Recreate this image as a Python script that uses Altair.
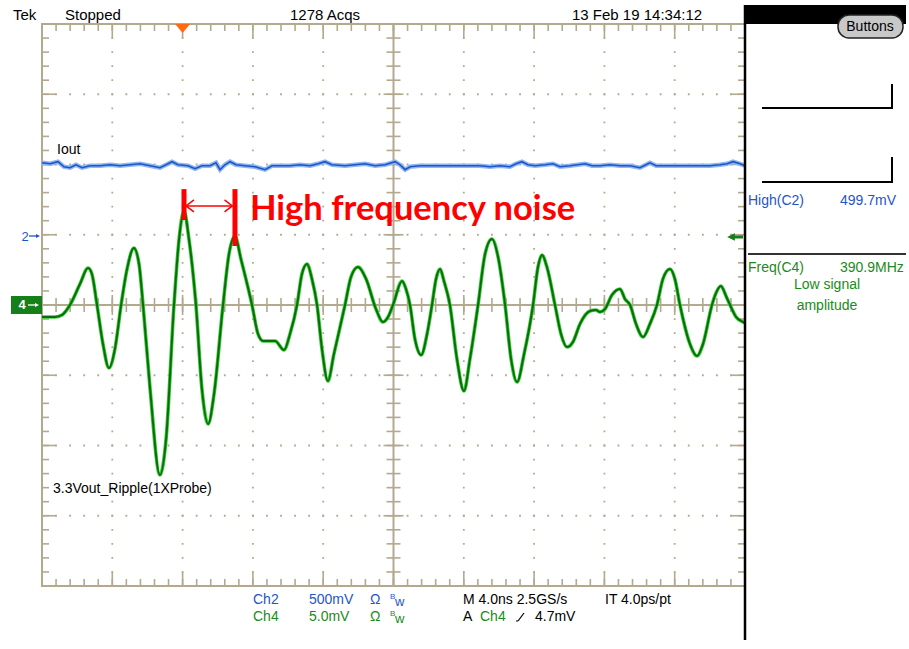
import altair as alt
import numpy as np
import pandas as pd

# ---------------- data ----------------
# Ch4 (green) 3.3V output ripple: time [ns] vs amplitude [mV]
ch4_time_ns = [
    0.00, 0.74, 1.14, 1.59, 2.16, 2.62, 2.84, 3.13, 3.47, 3.81,
    4.15, 4.50, 4.84, 5.23, 5.52, 5.75, 6.15, 6.71, 7.06, 7.51,
    7.80, 8.08, 8.36, 8.76, 9.10, 9.45, 9.79, 10.30, 10.64, 10.98,
    11.32, 11.95, 12.29, 12.58, 13.26, 13.77, 14.11, 14.51, 14.79, 15.08,
    15.36, 15.65, 15.93, 16.27, 16.61, 17.24, 17.58, 17.98, 18.44, 19.00,
    19.40, 19.69, 19.97, 20.49, 20.71, 20.94, 21.22, 21.57, 21.91, 22.19,
    22.42, 22.65, 22.87, 23.21, 23.61, 24.01, 24.35, 24.81, 25.21, 25.60,
    25.95, 26.35, 26.69, 27.03, 27.43, 27.94, 28.22, 28.45, 28.73, 29.19,
    29.53, 29.87, 30.21, 30.61, 31.18, 31.52, 31.75, 32.04, 32.43, 32.89,
    33.17, 33.46, 33.80, 34.20, 34.59, 34.99, 35.33, 35.73, 36.01, 36.30,
    36.87, 37.27, 37.61, 38.12, 38.35, 38.63, 38.92, 39.15, 39.49, 39.89,
    40.00,
]
ch4_mv = [
    -0.85, -0.85, -0.71, 0.00, 1.49, 2.63, 2.21, 0.00, -2.78, -4.48,
    -3.13, 0.00, 2.56, 4.06, 2.92, 0.00, -5.98, -12.10, -9.54, 0.00,
    4.70, 6.69, 4.70, 0.00, -5.98, -8.47, -6.33, 0.00, 3.63, 4.91,
    3.27, 0.00, -2.06, -2.56, -2.56, -3.20, -2.06, 0.00, 2.21, 2.92,
    1.85, 0.00, -3.13, -5.41, -3.49, 0.00, 1.99, 2.70, 1.85, -0.28,
    -1.21, -0.85, 0.00, 1.71, 1.14, 0.00, -2.42, -3.56, -2.06, 0.00,
    1.85, 2.56, 1.71, 0.00, -3.84, -6.12, -3.84, 0.00, 3.63, 4.70,
    3.42, 0.00, -3.84, -5.48, -3.49, 0.00, 2.70, 3.56, 2.70, 0.00,
    -2.06, -2.99, -2.63, -1.35, -0.43, -0.36, -0.50, -0.28, 0.71, 1.14,
    0.43, 0.00, -1.35, -2.28, -1.35, 0.00, 1.85, 2.56, 1.85, 0.00,
    -2.78, -3.63, -2.78, 0.00, 0.85, 1.35, 0.64, 0.00, -0.85, -1.21,
    -1.28,
]

# Ch2 (blue) Iout trace: time [ns] vs level [mV]
ch2_time_ns = [
    0.00, 0.46, 0.91, 1.25, 1.59, 1.93, 2.28, 2.73, 3.30, 3.87,
    4.44, 5.01, 5.58, 6.15, 6.71, 7.06, 7.40, 7.74, 8.31, 8.71,
    9.10, 9.56, 9.90, 10.13, 10.41, 10.70, 11.04, 11.55, 12.12, 12.69,
    13.09, 14.11, 14.68, 15.25, 15.71, 16.10, 16.50, 17.24, 17.81, 18.38,
    18.95, 19.52, 20.09, 20.37, 20.66, 20.94, 21.51, 22.65, 23.79, 24.92,
    25.49, 26.06, 26.63, 26.97, 27.31, 27.65, 28.05, 28.62, 29.08, 29.47,
    30.04, 30.90, 31.30, 31.75, 32.32, 32.89, 33.46, 34.02, 34.37, 34.59,
    34.94, 35.45, 36.30, 37.16, 38.01, 38.58, 38.98, 39.32, 39.72, 40.00,
]
ch2_mv = [
    512, 505, 520, 484, 477, 498, 477, 491, 491, 498,
    491, 498, 505, 491, 477, 498, 520, 498, 491, 470,
    491, 491, 512, 463, 498, 520, 498, 491, 484, 463,
    491, 491, 498, 491, 505, 520, 498, 491, 498, 505,
    491, 498, 520, 498, 463, 484, 491, 491, 491, 491,
    484, 491, 484, 505, 520, 498, 491, 498, 505, 484,
    491, 505, 491, 491, 498, 491, 491, 477, 498, 512,
    491, 491, 491, 491, 491, 498, 505, 520, 505, 491,
]

# scope settings
NS_PER_DIV = 4.0
CH4_MV_PER_DIV = 5.0
CH2_MV_PER_DIV = 500.0
CH2_REF_DIV = 1.0
TRIGGER_NS = 8.0
noise_peaks_ns = [8.08, 10.98]

# texts
tek_label = "Tek"
status_label = "Stopped"
acqs_label = "1278 Acqs"
date_label = "13 Feb 19 14:34:12"
buttons_label = "Buttons"
iout_label = "Iout"
ripple_label = "3.3Vout_Ripple(1XProbe)"
annotation_label = "High frequency noise"
meas1_name, meas1_value = "High(C2)", "499.7mV"
meas2_name, meas2_value = "Freq(C4)", "390.9MHz"
meas2_note = ["Low signal", "amplitude"]
ch2_row = ["Ch2", "500mV"]
ch4_row = ["Ch4", "5.0mV"]
timebase_label = "M 4.0ns 2.5GS/s"
interp_label = "IT 4.0ps/pt"
trig_level_label = "4.7mV"

# ---------------- styling ----------------
W, H = 703, 562
OX, OY = 42, 24           # plot origin in the page
GR = "#b2a98f"            # graticule colour
BLUE = "#1f55c6"
GREEN = "#1b8a1b"
DKGREEN = "#15801a"
RED = "#ff0000"
FONT = "Liberation Sans Narrow, Arial Narrow, Liberation Sans, sans-serif"

ch4 = pd.DataFrame({"t": ch4_time_ns, "div": np.array(ch4_mv) / CH4_MV_PER_DIV})
ch2 = pd.DataFrame({"t": ch2_time_ns, "div": np.array(ch2_mv) / CH2_MV_PER_DIV + CH2_REF_DIV})

XS = alt.Scale(domain=[0, 10 * NS_PER_DIV], nice=False, zero=False)
YS = alt.Scale(domain=[-4, 4], nice=False, zero=False)
X = alt.X("t:Q", scale=XS, axis=None)
Y = alt.Y("div:Q", scale=YS, axis=None)
one = pd.DataFrame({"k": [0]})


def ax(x):
    return x - OX


def ay(y):
    return y - OY


def txt(s, x, y, color="black", size=14, align="left", font=FONT, weight="normal",
        baseline="middle"):
    return alt.Chart(one).mark_text(
        text=s, align=align, baseline=baseline, fontSize=size, font=font,
        fontWeight=weight, color=color
    ).encode(x=alt.value(ax(x)), y=alt.value(ay(y)))


def seg(x1, y1, x2, y2, color="black", width=2):
    return alt.Chart(one).mark_rule(color=color, strokeWidth=width).encode(
        x=alt.value(ax(x1)), y=alt.value(ay(y1)), x2=alt.value(ax(x2)), y2=alt.value(ay(y2)))


def glyph(path, x, y, color, size):
    return alt.Chart(one).mark_point(shape=path, filled=True, color=color, size=size,
                                     opacity=1).encode(x=alt.value(ax(x)), y=alt.value(ay(y)))


layers = []

# ---- graticule ----
maj_t = [NS_PER_DIV * i for i in range(11)]
min_t = [round(NS_PER_DIV / 5 * i, 3) for i in range(51)]
maj_d = list(range(-4, 5))
min_d = [round(-4 + 0.2 * i, 3) for i in range(41)]

layers.append(alt.Chart(pd.DataFrame({"t": [t for t in maj_t if t not in (0, 20, 40)]}))
              .mark_rule(color=GR, strokeWidth=1.8, strokeDash=[1.8, 12.25], strokeDashOffset=0.9)
              .encode(x=X))
layers.append(alt.Chart(pd.DataFrame({"div": [d for d in maj_d if d not in (-4, 0, 4)]}))
              .mark_rule(color=GR, strokeWidth=1.8, strokeDash=[1.8, 12.26], strokeDashOffset=0.9)
              .encode(y=Y))
layers.append(alt.Chart(pd.DataFrame({"t": [20]})).mark_rule(color=GR, strokeWidth=2).encode(x=X))
layers.append(alt.Chart(pd.DataFrame({"div": [0]})).mark_rule(color=GR, strokeWidth=2).encode(y=Y))


def xticks(vals, y0, y1):
    return alt.Chart(pd.DataFrame({"t": vals})).mark_rule(color=GR, strokeWidth=1.6).encode(
        x=X, y=alt.value(y0), y2=alt.value(y1))


def yticks(vals, x0, x1):
    return alt.Chart(pd.DataFrame({"div": vals})).mark_rule(color=GR, strokeWidth=1.6).encode(
        y=Y, x=alt.value(x0), x2=alt.value(x1))


layers += [
    xticks(min_t, 0, 7), xticks(maj_t, 0, 14),
    xticks(min_t, H - 7, H), xticks(maj_t, H - 14, H),
    xticks(min_t, H / 2 - 7, H / 2 + 7), xticks(maj_t, H / 2 - 10, H / 2 + 10),
    yticks(min_d, 0, 7), yticks(maj_d, 0, 14),
    yticks(min_d, W - 7, W), yticks(maj_d, W - 14, W),
    yticks(min_d, W / 2 - 7, W / 2 + 7), yticks(maj_d, W / 2 - 10, W / 2 + 10),
]

# ---- traces ----
layers.append(alt.Chart(ch2).mark_line(color="#8db6f2", strokeWidth=4.5, interpolate="linear")
              .encode(x=X, y=Y))
layers.append(alt.Chart(ch2).mark_line(color=BLUE, strokeWidth=1.6, interpolate="linear")
              .encode(x=X, y=Y))
layers.append(alt.Chart(ch4).mark_line(color="#35d035", strokeWidth=3.6, interpolate="monotone")
              .encode(x=X, y=Y))
layers.append(alt.Chart(ch4).mark_line(color="#0d6b0d", strokeWidth=2.0, interpolate="monotone")
              .encode(x=X, y=Y))

# ---- channel markers ----
layers.append(alt.Chart(pd.DataFrame({"t": [TRIGGER_NS]})).mark_point(
    shape="M-1,-0.6L1,-0.6L0,0.6Z", filled=True, color="#ff6a10", size=225, opacity=1)
    .encode(x=X, y=alt.value(4.5)))
layers += [
    txt("2", 25, 237, color=BLUE, size=13, align="center"),
    seg(29, 236, 37, 236, color=BLUE, width=1.3),
    glyph("M-1,-1L1,0L-1,1Z", 38, 236, BLUE, 16),
]
layers.append(alt.Chart(one).mark_rect(color=DKGREEN).encode(
    x=alt.value(ax(11)), x2=alt.value(ax(42)), y=alt.value(ay(296)), y2=alt.value(ay(314))))
layers += [
    txt("4", 22, 305, color="white", size=13, align="center", weight="bold"),
    seg(28, 305, 36, 305, color="white", width=1.3),
    glyph("M-1,-1L1,0L-1,1Z", 37, 305, "white", 16),
    # Ch4 trigger level arrow on the right edge
    seg(733, 237, 743, 237, color=DKGREEN, width=3),
    glyph("M1,-1L-1,0L1,1Z", 731, 237, DKGREEN, 60),
]

# ---- trace labels ----
layers.append(txt(iout_label, 57, 150))
layers.append(txt(ripple_label, 53, 489))

# ---- red annotation ----
bars = pd.DataFrame({"t": noise_peaks_ns, "div": [1.21, 0.84], "div2": [1.65, 1.65]})
layers.append(alt.Chart(bars).mark_rule(color=RED, strokeWidth=5).encode(
    x=X, y=Y, y2=alt.Y2("div2")))
arrow = pd.DataFrame({"t": [noise_peaks_ns[0] + 0.12], "t2": [noise_peaks_ns[1] - 0.15],
                      "div": [1.41]})
layers.append(alt.Chart(arrow).mark_rule(color=RED, strokeWidth=1.5).encode(
    x=X, x2=alt.X2("t2"), y=Y))
layers.append(alt.Chart(arrow).mark_point(shape="M2.6,-2L0,0L2.6,2", filled=False, color=RED,
                                          strokeWidth=1.5, size=36, opacity=1)
              .encode(x=X, y=Y))
layers.append(alt.Chart(arrow).mark_point(shape="M-2.6,-2L0,0L-2.6,2", filled=False, color=RED,
                                          strokeWidth=1.5, size=36, opacity=1)
              .encode(x=alt.X("t2:Q", scale=XS, axis=None), y=Y))
layers.append(txt(annotation_label, 250, 220, color=RED, size=34.5, font="Lato, Liberation Sans",
                  weight="bold", baseline="alphabetic"))

# ---- header ----
layers += [
    txt(tek_label, 13, 15, size=15),
    txt(status_label, 65, 15, size=15),
    txt(acqs_label, 290, 15, size=15),
    txt(date_label, 572, 15, size=15),
]

# ---- right panel ----
layers.append(alt.Chart(one).mark_rect(color="black").encode(
    x=alt.value(ax(745)), x2=alt.value(ax(906)), y=alt.value(ay(5)), y2=alt.value(ay(24))))
layers.append(alt.Chart(one).mark_rect(fill="#c8c8c8", stroke="#222", strokeWidth=1.5,
                                       cornerRadius=11).encode(
    x=alt.value(ax(838)), x2=alt.value(ax(903)), y=alt.value(ay(15)), y2=alt.value(ay(38))))
layers.append(txt(buttons_label, 870, 27, size=14, align="center"))
layers.append(seg(745, 5, 745, 640, width=2.5))
layers += [
    seg(762, 108, 893, 108), seg(892, 84, 892, 109),
    seg(762, 182, 893, 182), seg(892, 157, 892, 183),
    seg(748, 254, 906, 254, color="#333"),
]
layers += [
    txt(meas1_name, 748, 201, color=BLUE, size=14),
    txt(meas1_value, 840, 201, color=BLUE, size=14),
    txt(meas2_name, 748, 268, color=GREEN, size=14),
    txt(meas2_value, 840, 268, color=GREEN, size=14),
    txt(meas2_note[0], 827, 285, color=GREEN, size=14, align="center"),
    txt(meas2_note[1], 827, 306, color=GREEN, size=14, align="center"),
]

# ---- bottom status ----
layers += [
    txt(ch2_row[0], 253, 600, color=BLUE, size=14),
    txt(ch2_row[1], 309, 600, color=BLUE, size=14),
    txt("Ω", 370, 600, color=BLUE, size=14),
    txt("B", 390, 597, color=BLUE, size=8),
    txt("w", 395, 602, color=BLUE, size=13),
    txt(ch4_row[0], 253, 617, color=GREEN, size=14),
    txt(ch4_row[1], 309, 617, color=GREEN, size=14),
    txt("Ω", 370, 617, color=GREEN, size=14),
    txt("B", 390, 614, color=GREEN, size=8),
    txt("w", 395, 619, color=GREEN, size=13),
    txt(timebase_label, 463, 600, size=14),
    txt(interp_label, 605, 600, size=14),
    txt("A", 463, 617, size=14),
    txt("Ch4", 480, 617, color=GREEN, size=14),
    seg(518, 621, 524, 613, width=1.2),
    seg(516, 621, 518, 621, width=1.2),
    txt(trig_level_label, 535, 617, size=14),
]

chart = alt.layer(*layers).properties(
    width=W, height=H,
    autosize=alt.AutoSizeParams(type="none"),
    padding={"left": OX, "top": OY, "right": 909 - OX - W, "bottom": 649 - OY - H},
    background="white",
).configure_view(stroke=GR, strokeWidth=2)

chart.save("out.html", embed_options={"renderer": "svg", "actions": False})
